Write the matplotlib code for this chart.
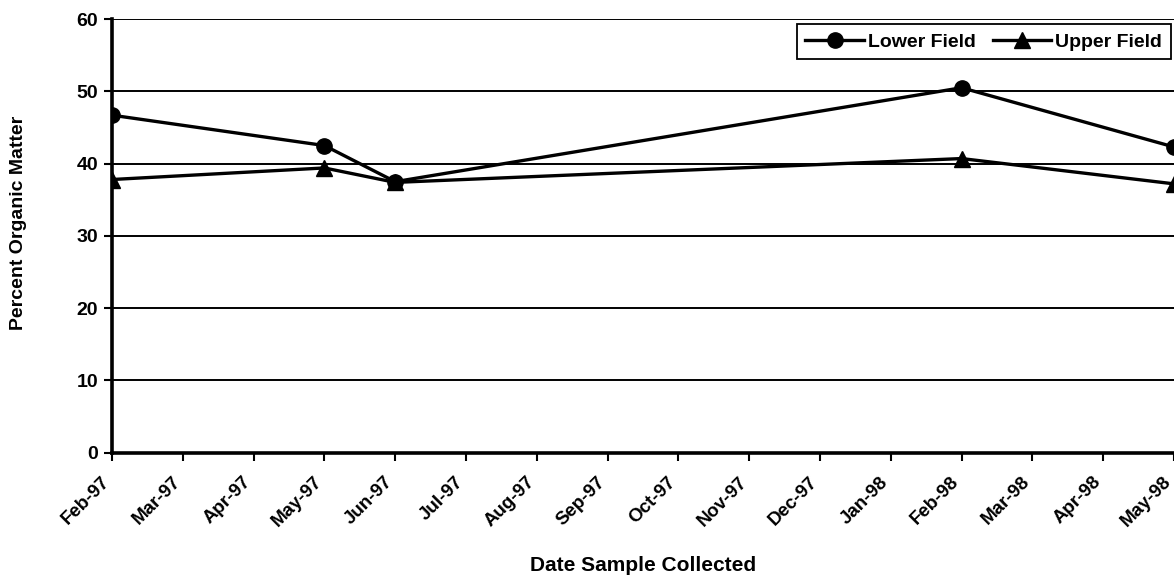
import matplotlib
matplotlib.use("Agg")
import matplotlib.pyplot as plt
import matplotlib.transforms as mtransforms

plt.rcParams['font.family'] = ['Liberation Sans', 'DejaVu Sans']
plt.rcParams['font.weight'] = 'bold'

# monthly axis categories
months = ['Feb-97', 'Mar-97', 'Apr-97', 'May-97', 'Jun-97', 'Jul-97', 'Aug-97',
          'Sep-97', 'Oct-97', 'Nov-97', 'Dec-97', 'Jan-98', 'Feb-98', 'Mar-98',
          'Apr-98', 'May-98']

# sampling dates and percent organic matter
sample_dates = ['Feb-97', 'May-97', 'Jun-97', 'Feb-98', 'May-98']
lower_field = [46.7, 42.5, 37.5, 50.5, 42.3]
upper_field = [37.8, 39.4, 37.4, 40.7, 37.2]

yticks = [0, 10, 20, 30, 40, 50, 60]

fig = plt.figure(figsize=(11.74, 5.78), dpi=100)
ax = fig.add_axes([0.0954, 0.2168, 1.0 - 0.0954, 0.967 - 0.2168])

x = [months.index(d) for d in sample_dates]

ax.plot(x, lower_field, color='black', lw=2.4, marker='o', markersize=11,
        label='Lower Field', zorder=3)
ax.plot(x, upper_field, color='black', lw=2.4, marker='^', markersize=11,
        label='Upper Field', zorder=3)

ax.set_xlim(0, len(months) - 1)
ax.set_ylim(0, 60)
ax.set_yticks(yticks)
ax.set_xticks(range(len(months)))
ax.set_xticklabels(months, rotation=45, ha='right', va='top',
                   rotation_mode='anchor', fontsize=13.5, fontweight='bold')
ax.tick_params(axis='y', labelsize=14, length=6, width=1.5, direction='out', pad=4)
ax.tick_params(axis='x', length=6, width=1.5, direction='out', pad=6)

# nudge the rotated month labels left of their ticks, like the original
shift = mtransforms.ScaledTranslation(-0.11, -0.04, fig.dpi_scale_trans)
for lab in ax.get_xticklabels():
    lab.set_transform(lab.get_transform() + shift)

# horizontal gridlines
ax.yaxis.grid(True, color='black', lw=1.4)
ax.set_axisbelow(True)

for side in ['top', 'right']:
    ax.spines[side].set_visible(False)
ax.spines['left'].set_linewidth(2.6)
ax.spines['bottom'].set_linewidth(2.6)

ax.set_xlabel('Date Sample Collected', fontsize=15, fontweight='bold')
ax.xaxis.set_label_coords(0.5, -0.238)
ax.set_ylabel('Percent Organic Matter', fontsize=14, fontweight='bold')
ax.yaxis.set_label_coords(-0.080, 0.53)

leg = ax.legend(loc='upper right', bbox_to_anchor=(0.997, 0.988), ncol=2,
                fontsize=14, handlelength=3.0, handletextpad=0.2,
                columnspacing=0.9, borderpad=0.45, borderaxespad=0,
                fancybox=False, framealpha=1, edgecolor='black')
leg.get_frame().set_linewidth(1.3)

fig.savefig('out.png', dpi=100)
